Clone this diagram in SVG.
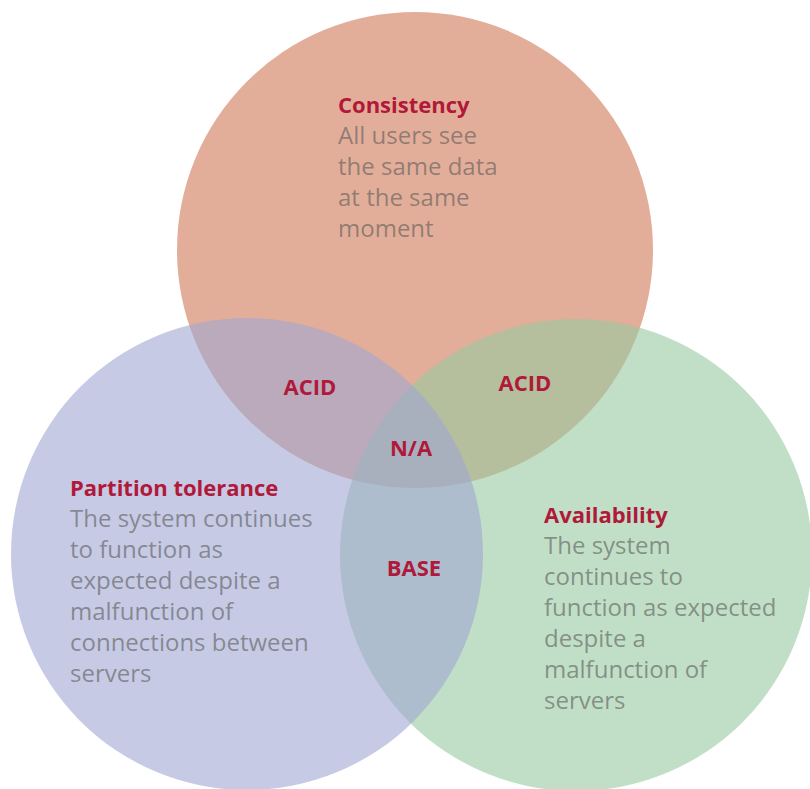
<svg xmlns="http://www.w3.org/2000/svg" width="810" height="789" viewBox="0 0 810 789">
  <style>
    .title { font-family: "Open Sans", "Noto Sans", "Liberation Sans", sans-serif; font-weight: 700; font-size: 22px; fill: #b0193a; }
    .body { font-family: "Open Sans", "Noto Sans", "Liberation Sans", sans-serif; font-weight: 400; font-size: 24px; fill: #5a5a5a; fill-opacity: 0.6; }
    .lbl { font-family: "Open Sans", "Noto Sans", "Liberation Sans", sans-serif; font-weight: 700; font-size: 22px; fill: #b0193a; text-anchor: middle; }
  </style>
  <rect width="810" height="789" fill="#ffffff"/>
  <g id="consistency">
    <circle cx="415" cy="250" r="238" fill="#e3ae99"/>
    <text class="title" x="338" y="113">Consistency</text>
    <text class="body" x="338" y="144">All users see</text>
    <text class="body" x="338" y="175">the same data</text>
    <text class="body" x="338" y="206">at the same</text>
    <text class="body" x="338" y="237">moment</text>
  </g>
  <g id="availability">
    <circle cx="576" cy="555" r="236" fill="#96caa0" fill-opacity="0.6"/>
    <text class="title" x="544" y="523">Availability</text>
    <text class="body" x="544" y="554">The system</text>
    <text class="body" x="544" y="585">continues to</text>
    <text class="body" x="544" y="616">function as expected</text>
    <text class="body" x="544" y="647">despite a</text>
    <text class="body" x="544" y="678">malfunction of</text>
    <text class="body" x="544" y="709">servers</text>
  </g>
  <g id="partition-tolerance">
    <circle cx="247" cy="554" r="236" fill="#a0a6d2" fill-opacity="0.6"/>
    <text class="title" x="70" y="496">Partition tolerance</text>
    <text class="body" x="70" y="527">The system continues</text>
    <text class="body" x="70" y="558">to function as</text>
    <text class="body" x="70" y="589">expected despite a</text>
    <text class="body" x="70" y="620">malfunction of</text>
    <text class="body" x="70" y="651">connections between</text>
    <text class="body" x="70" y="682">servers</text>
  </g>
  <g id="intersections">
    <text class="lbl" x="310" y="395">ACID</text>
    <text class="lbl" x="525" y="391">ACID</text>
    <text class="lbl" x="411" y="456">N/A</text>
    <text class="lbl" x="414" y="576">BASE</text>
  </g>
</svg>
